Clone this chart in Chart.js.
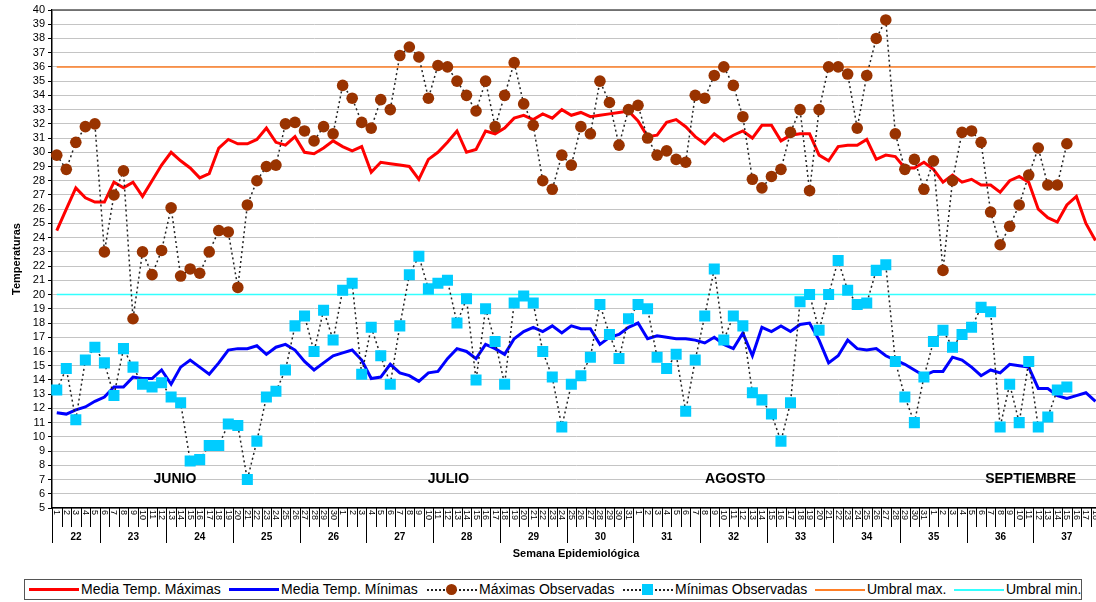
<!DOCTYPE html>
<html lang="es">
<head>
    <meta charset="UTF-8">
    <title>Temperaturas - Semana Epidemiológica</title>
    <script src="https://cdn.jsdelivr.net/npm/chart.js"></script>
    <style>
        html, body { margin: 0; padding: 0; background: #fff; overflow: hidden; width: 1096px; height: 602px; }
        #wrap { position: relative; width: 1096px; height: 602px; overflow: hidden; font-family: Arial, "Liberation Sans", sans-serif; }
        #chart { position: absolute; left: 0; top: 0; }
        #legend { position: absolute; left: 24px; top: 579px; width: 1058px; height: 21px; border: 1px solid #555; box-sizing: border-box; }
        .item { position: absolute; top: 0; height: 19px; line-height: 19px; font-size: 14px; color: #000; white-space: nowrap; }
        .sym { position: absolute; left: 0; width: 50px; height: 0; }
        .txt { position: absolute; left: 52px; top: 0; }
        .mk { position: absolute; left: 19px; }
    </style>
</head>
<body>
<div id="wrap">
    <canvas id="chart" width="1108" height="570"></canvas>
    <div id="legend">
        <div class="item" style="left:4px"><div class="sym" style="border-top:3px solid #ff0000;top:8px"></div><span class="txt">Media Temp. Máximas</span></div>
        <div class="item" style="left:204px"><div class="sym" style="border-top:3px solid #0000ff;top:8px"></div><span class="txt">Media Temp. Mínimas</span></div>
        <div class="item" style="left:402px"><div class="sym" style="border-top:2px dotted #222;top:9px"></div><div class="mk" style="top:4px;width:11px;height:11px;border-radius:50%;background:#993300"></div><span class="txt">Máximas Observadas</span></div>
        <div class="item" style="left:598px"><div class="sym" style="border-top:2px dotted #222;top:9px"></div><div class="mk" style="top:4px;width:11px;height:11px;background:#00ccff"></div><span class="txt">Mínimas Observadas</span></div>
        <div class="item" style="left:790px"><div class="sym" style="border-top:2px solid #ff7f27;top:9px"></div><span class="txt">Umbral max.</span></div>
        <div class="item" style="left:929px"><div class="sym" style="border-top:2px solid #33ffff;top:9px"></div><span class="txt">Umbral min.</span></div>
    </div>
</div>

<script>
    // Days 1 Jun - 18 Sep
    const dayLabels = [
        1,2,3,4,5,6,7,8,9,10,11,12,13,14,15,16,17,18,19,20,21,22,23,24,25,26,27,28,29,30,
        1,2,3,4,5,6,7,8,9,10,11,12,13,14,15,16,17,18,19,20,21,22,23,24,25,26,27,28,29,30,31,
        1,2,3,4,5,6,7,8,9,10,11,12,13,14,15,16,17,18,19,20,21,22,23,24,25,26,27,28,29,30,31,
        1,2,3,4,5,6,7,8,9,10,11,12,13,14,15,16,17,18
    ];
    const weekLabels = [22,23,24,25,26,27,28,29,30,31,32,33,34,35,36,37];
    const weekStart = [0,5,12,19,26,33,40,47,54,61,68,75,82,89,96,103];
    const monthLabels = ['JUNIO','JULIO','AGOSTO','SEPTIEMBRE'];
    const monthLabelDay = [12.4, 41.1, 71.2, 102.2];

    const mediaMax = [
        24.5,26.0,27.5,26.8,26.5,26.5,27.9,27.5,27.9,26.9,28.0,29.1,30.0,29.4,28.9,28.2,28.5,30.3,30.9,30.6,30.6,30.9,31.7,30.7,30.5,31.1,30.0,29.9,30.3,30.8,
        30.4,30.1,30.4,28.6,29.3,29.2,29.1,29.0,28.1,29.5,30.0,30.7,31.5,30.0,30.2,31.5,31.3,31.7,32.4,32.6,32.3,32.7,32.4,33.0,32.6,32.8,32.5,32.6,32.7,32.8,32.9,
        32.2,31.1,31.2,32.1,32.3,31.8,31.1,30.6,31.3,30.8,31.2,31.5,31.0,31.9,31.9,30.8,31.2,31.3,31.3,29.8,29.4,30.4,30.5,30.5,30.9,29.5,29.8,29.7,28.9,28.9,29.3,
        28.8,27.9,28.4,27.9,28.1,27.7,27.7,27.2,28.0,28.3,27.9,26.0,25.4,25.1,26.3,26.9,25.0,23.8
    ];
    const mediaMin = [
        11.7,11.6,11.9,12.1,12.5,12.8,13.5,13.5,14.2,14.1,14.1,14.7,13.7,14.9,15.4,14.9,14.4,15.2,16.1,16.2,16.2,16.4,15.8,16.3,16.5,16.1,15.3,14.7,15.2,15.7,
        15.9,16.1,15.4,14.1,14.2,15.1,14.5,14.3,13.9,14.5,14.6,15.5,16.2,16.0,15.5,16.5,16.2,15.8,16.9,17.4,17.7,17.4,17.8,17.3,17.8,17.6,17.6,16.5,17.0,17.2,17.7,
        18.0,16.9,17.1,17.0,16.9,16.9,16.8,16.6,17.0,16.5,16.2,17.3,15.7,17.7,17.4,17.8,17.4,17.9,18.0,16.8,15.2,15.7,16.8,16.2,16.1,16.2,15.7,15.4,15.1,14.7,14.3,
        14.6,14.6,15.6,15.4,14.9,14.3,14.7,14.5,15.1,15.0,14.9,13.4,13.4,12.9,12.7,12.9,13.1,12.5
    ];
    const maxObs = [
        29.8,28.8,30.7,31.8,32.0,23.0,27.0,28.7,18.3,23.0,21.4,23.1,26.1,21.3,21.8,21.5,23.0,24.5,24.4,20.5,26.3,28.0,29.0,29.1,32.0,32.1,31.5,30.8,31.8,31.3,
        34.7,33.8,32.1,31.7,33.7,33.0,36.8,37.4,36.7,33.8,36.1,36.0,35.0,34.0,32.9,35.0,31.8,34.0,36.3,33.4,31.9,28.0,27.4,29.8,29.1,31.8,31.3,35.0,33.5,30.5,33.0,
        33.3,31.0,29.8,30.1,29.5,29.3,34.0,33.8,35.4,36.0,34.7,32.5,28.1,27.5,28.3,28.8,31.4,33.0,27.3,33.0,36.0,36.0,35.5,31.7,35.4,38.0,39.3,31.3,28.8,29.5,27.4,
        29.4,21.7,28.0,31.4,31.5,30.7,25.8,23.5,24.8,26.3,28.4,30.3,27.7,27.7,30.6,null,null,null
    ];
    const minObs = [
        13.3,14.8,11.2,15.4,16.3,15.2,12.9,16.2,14.9,13.7,13.5,13.8,12.8,12.4,8.3,8.4,9.4,9.4,10.9,10.8,7.0,9.7,12.8,13.2,14.7,17.8,18.5,16.0,18.9,16.8,
        20.3,20.8,14.4,17.7,15.7,13.7,17.8,21.4,22.7,20.4,20.8,21.0,18.0,19.7,14.0,19.0,16.7,13.7,19.4,19.9,19.4,16.0,14.2,10.7,13.7,14.3,15.6,19.3,17.2,15.5,18.3,
        19.3,19.0,15.6,14.8,15.8,11.8,15.4,18.5,21.8,16.8,18.5,17.8,13.1,12.6,11.6,9.7,12.4,19.5,20.0,17.5,20.0,22.4,20.3,19.3,19.4,21.7,22.1,15.3,12.8,11.0,14.2,
        16.7,17.5,16.3,17.2,17.7,19.1,18.8,10.7,13.7,11.0,15.3,10.7,11.4,13.3,13.5,null,null,null
    ];
    const umbralMax = 36;
    const umbralMin = 20;

    const FONT = 'Arial, "Liberation Sans", sans-serif';

    // day ticks, week row, axis title and month names
    const axisDecor = {
        id: 'axisDecor',
        afterDraw(chart) {
            const ctx = chart.ctx;
            const xs = chart.scales.x;
            const ys = chart.scales.y;
            const area = chart.chartArea;
            const band = xs.getPixelForValue(1) - xs.getPixelForValue(0);
            const bottom = area.bottom;
            ctx.save();

            ctx.strokeStyle = '#555';
            ctx.lineWidth = 1.5;
            ctx.beginPath();
            ctx.moveTo(area.left, area.top);
            ctx.lineTo(area.right, area.top);
            ctx.stroke();

            ctx.strokeStyle = '#000';
            ctx.lineWidth = 1;
            ctx.fillStyle = '#000';
            ctx.font = '9px ' + FONT;
            for (let i = 0; i < dayLabels.length; i++) {
                const x = xs.getPixelForValue(i);
                const xl = Math.round(x - band / 2) + 0.5;
                ctx.beginPath();
                ctx.moveTo(xl, bottom);
                ctx.lineTo(xl, bottom + 19);
                ctx.stroke();
                ctx.save();
                ctx.translate(x, bottom + 2);
                ctx.rotate(Math.PI / 2);
                ctx.textAlign = 'left';
                ctx.textBaseline = 'middle';
                ctx.fillText(String(dayLabels[i]), 0, 0);
                ctx.restore();
            }

            ctx.font = 'bold 10px ' + FONT;
            ctx.textAlign = 'center';
            ctx.textBaseline = 'middle';
            for (let w = 0; w < weekLabels.length; w++) {
                const s = weekStart[w];
                const e = w + 1 < weekStart.length ? weekStart[w + 1] : dayLabels.length;
                const xl = Math.round(xs.getPixelForValue(s) - band / 2) + 0.5;
                const xr = xs.getPixelForValue(e - 1) + band / 2;
                ctx.beginPath();
                ctx.moveTo(xl, bottom);
                ctx.lineTo(xl, bottom + 35);
                ctx.stroke();
                ctx.fillText(String(weekLabels[w]), (xl + xr) / 2, bottom + 29);
            }

            ctx.font = 'bold 11px ' + FONT;
            ctx.fillText('Semana Epidemiológica', 576, bottom + 46);

            ctx.font = 'bold 14px ' + FONT;
            for (let m = 0; m < monthLabels.length; m++) {
                ctx.fillText(monthLabels[m], xs.getPixelForValue(monthLabelDay[m]), ys.getPixelForValue(7));
            }
            ctx.restore();
        }
    };

    function initChart() {
        const ctx = document.getElementById('chart').getContext('2d');
        new Chart(ctx, {
            type: 'line',
            data: {
                labels: dayLabels.map(String),
                datasets: [
                    {
                        label: 'Máximas Observadas',
                        data: maxObs,
                        borderColor: '#222',
                        borderWidth: 1.5,
                        borderDash: [2, 3],
                        pointStyle: 'circle',
                        pointRadius: 5.8,
                        pointBackgroundColor: '#993300',
                        pointBorderColor: '#993300',
                        pointBorderWidth: 0,
                        order: 0
                    },
                    {
                        label: 'Mínimas Observadas',
                        data: minObs,
                        borderColor: '#222',
                        borderWidth: 1.5,
                        borderDash: [2, 3],
                        pointStyle: 'rect',
                        pointRadius: 7.8,
                        pointBackgroundColor: '#00ccff',
                        pointBorderColor: '#00ccff',
                        pointBorderWidth: 0,
                        order: 1
                    },
                    {
                        label: 'Media Temp. Máximas',
                        data: mediaMax,
                        borderColor: '#ff0000',
                        borderWidth: 3,
                        pointRadius: 0,
                        order: 2
                    },
                    {
                        label: 'Media Temp. Mínimas',
                        data: mediaMin,
                        borderColor: '#0000ff',
                        borderWidth: 3,
                        pointRadius: 0,
                        order: 3
                    },
                    {
                        label: 'Umbral max.',
                        data: dayLabels.map(() => umbralMax),
                        borderColor: '#ff7f27',
                        borderWidth: 1.5,
                        pointRadius: 0,
                        order: 4
                    },
                    {
                        label: 'Umbral min.',
                        data: dayLabels.map(() => umbralMin),
                        borderColor: '#33ffff',
                        borderWidth: 1.5,
                        pointRadius: 0,
                        order: 5
                    }
                ]
            },
            options: {
                responsive: false,
                animation: false,
                devicePixelRatio: 1,
                layout: { padding: { top: 10, left: 0, right: 0, bottom: 0 } },
                plugins: {
                    legend: { display: false },
                    tooltip: { enabled: false }
                },
                elements: { line: { tension: 0 } },
                scales: {
                    x: {
                        offset: true,
                        grid: { display: false },
                        ticks: { display: false },
                        border: { color: '#000', width: 1.5 },
                        afterFit: function(scale) { scale.height = 62; }
                    },
                    y: {
                        min: 5,
                        max: 40,
                        ticks: {
                            stepSize: 1,
                            autoSkip: false,
                            color: '#000',
                            padding: 3,
                            font: { family: FONT, size: 11 }
                        },
                        grid: { color: '#c4c4c4', lineWidth: 1, tickLength: 4, tickColor: '#000' },
                        border: { color: '#000', width: 1.5 },
                        title: {
                            display: true,
                            text: 'Temperaturas',
                            color: '#000',
                            padding: { top: 10, bottom: 0 },
                            font: { family: FONT, size: 11, weight: 'bold' }
                        },
                        afterFit: function(scale) { scale.width = 52; }
                    }
                }
            },
            plugins: [axisDecor]
        });
    }

    document.addEventListener('DOMContentLoaded', initChart);
</script>
</body>
</html>
